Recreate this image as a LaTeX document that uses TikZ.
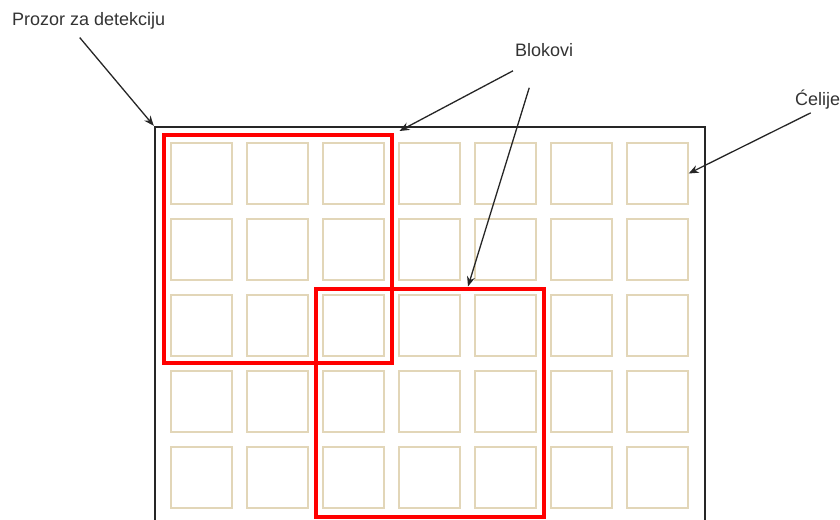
\documentclass[tikz,border=0pt]{standalone}
\usepackage{fontspec}
\setmainfont{Liberation Sans}
\usetikzlibrary{positioning, arrows.meta}
\definecolor{cellline}{RGB}{226,214,184}
\definecolor{blockred}{RGB}{255,0,0}
\definecolor{tagtext}{RGB}{51,51,51}

\begin{document}
\begin{tikzpicture}[x=1pt, y=-1pt,
    callout/.style={anchor=west, inner sep=0pt, text=tagtext, font=\fontsize{18}{21}\selectfont},
    cellbox/.style={draw=cellline, line width=1.3pt, minimum size=61pt, inner sep=0pt},
    blockbox/.style={draw=blockred, line width=4pt, minimum size=228pt, inner sep=0pt},
    pointer/.style={-{Stealth[length=10pt, width=8pt]}, line width=1.3pt, black!85}]
      \clip (0,0) rectangle (840,519);

      % Cells (7 x 5)
      \foreach \i in {0,...,6} {
        \foreach \j in {0,...,4} {
          \node[cellbox] (c-\i-\j) at ({201.5+76*\i}, {173.5+76*\j}) {};
        }
      }

      % Detection window
      \node[draw=black!85, line width=2.4pt, minimum width=550pt, minimum height=397pt, inner sep=0pt] (window) at (430, 325.5) {};

      % Blocks
      \node[blockbox] (blok1) at (277.5, 249) {};
      \node[blockbox] (blok2) at (430, 402.5) {};

      % Labels
      \node[callout] (prozor) at (12, 21) {Prozor za detekciju};
      \node[callout] (blokovi) at (515, 50) {Blokovi};
      \node[callout] (celije) at (795, 100) {Ćelije};

      % Arrows
      \draw[pointer] ([xshift=-9pt, yshift=-8pt]prozor.south) -- (window.north west);
      \draw[pointer] ([xshift=-2pt, yshift=-14pt]blokovi.south west) -- ([xshift=6pt, yshift=2pt]blok1.north east);
      \draw[pointer] ([xshift=-15pt, yshift=-31pt]blokovi.south) -- ([xshift=38pt]blok2.north);
      \draw[pointer] ([xshift=-7pt, yshift=-3pt]celije.south) -- (c-6-0.east);
    \end{tikzpicture}
\end{document}
